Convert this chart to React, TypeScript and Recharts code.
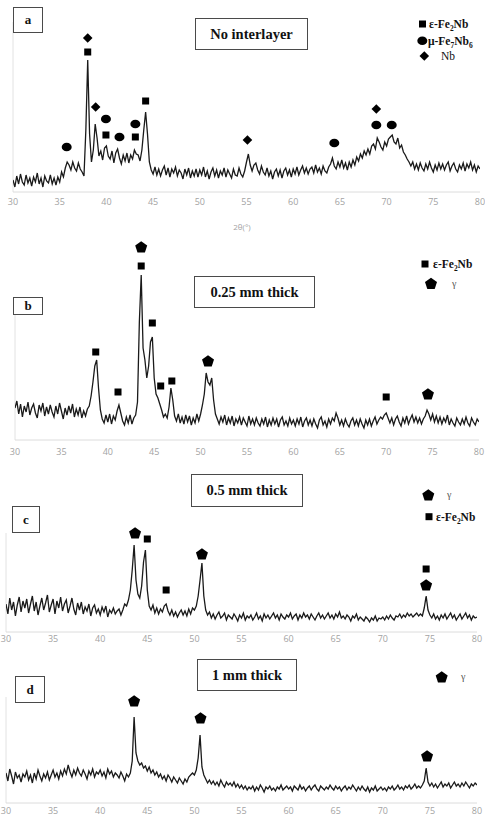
import { ComposedChart, Line, Scatter, XAxis, YAxis, ReferenceLine } from "recharts";

// XRD scans on a 0.2° grid from 30° to 80°
const scanStart = 30;
const scanStep = 0.2;
const angleTicks = [30, 35, 40, 45, 50, 55, 60, 65, 70, 75, 80];

const countsA = [
  12, 5, 16, 8, 18, 10, 7, 17, 9, 14,
  6, 15, 10, 19, 8, 14, 5, 16, 11, 9,
  17, 8, 14, 7, 15, 10, 20, 15, 24, 30,
  27, 22, 30, 24, 21, 29, 23, 20, 16, 62,
  132, 58, 30, 42, 68, 54, 36, 41, 32, 44,
  46, 36, 33, 41, 29, 39, 43, 34, 28, 37,
  31, 39, 29, 37, 33, 42, 38, 37, 31, 42,
  62, 80, 58, 30, 22, 18, 25, 17, 23, 16,
  22, 26, 17, 24, 15, 23, 19, 25, 16, 22,
  19, 13, 23, 17, 24, 14, 21, 16, 23, 15,
  22, 17, 25, 15, 21, 13, 20, 24, 16, 22,
  14, 21, 17, 24, 15, 22, 18, 14, 23, 17,
  16, 24, 18, 15, 21, 30, 38, 27, 21, 27,
  29, 22, 18, 26, 20, 17, 24, 16, 21, 13,
  20, 23, 16, 22, 14, 21, 24, 17, 22, 15,
  23, 18, 25, 17, 22, 26, 19, 24, 18, 23,
  25, 19, 27, 20, 24, 18, 26, 21, 19, 25,
  28, 34, 26, 23, 30, 25, 32, 24, 29, 22,
  30, 25, 32, 27, 35, 31, 38, 34, 41, 37,
  43, 38, 46, 48, 43, 54, 50, 45, 42, 50,
  46, 53, 55, 57, 50, 48, 54, 44, 47, 40,
  37, 33, 30, 26, 30, 23, 28, 22, 29, 24,
  21, 28, 23, 30, 24, 20, 27, 22, 29, 23,
  28, 22, 27, 30, 21, 26, 29, 23, 20, 27,
  23, 29, 21, 28, 24, 30, 22, 27, 20, 26,
  23,
];

const countsB = [
  32, 39, 26, 36, 23, 34, 28, 38, 25, 32,
  36, 27, 22, 35, 29, 37, 24, 33, 26, 35,
  28, 23, 34, 26, 37, 29, 21, 32, 25, 34,
  27, 36, 23, 31, 25, 33, 22, 29, 24, 31,
  34, 44, 58, 74, 80, 52, 30, 21, 17, 25,
  18, 26, 16, 24, 20, 29, 35, 27, 19, 15,
  23, 17, 25, 16, 22, 25, 38, 118, 165, 92,
  80, 62, 74, 98, 103, 62, 46, 42, 36, 30,
  23, 26, 22, 33, 52, 40, 24, 19, 26, 17,
  23, 16, 25, 18, 24, 15, 22, 17, 26, 19,
  26, 35, 46, 67, 58, 55, 62, 40, 26, 21,
  16, 23, 18, 25, 15, 22, 17, 24, 14, 21,
  17, 23, 15, 22, 18, 14, 24, 16, 21, 15,
  22, 17, 14, 21, 16, 23, 13, 20, 15, 22,
  16, 21, 13, 20, 23, 15, 19, 14, 22, 16,
  20, 14, 21, 16, 23, 13, 19, 22, 15, 20,
  14, 21, 16, 12, 20, 23, 15, 19, 13, 21,
  16, 22, 19, 27, 22, 15, 20, 14, 21, 16,
  13, 19, 22, 15, 20, 14, 21, 16, 12, 20,
  15, 21, 14, 19, 23, 16, 20, 23, 21, 25,
  27, 22, 17, 22, 15, 21, 24, 18, 14, 22,
  17, 24, 16, 21, 25, 18, 23, 17, 22, 16,
  21, 24, 30, 26, 20, 26, 18, 24, 17, 23,
  16, 22, 18, 25, 15, 21, 17, 14, 22, 18,
  15, 21, 16, 23, 17, 14, 22, 18, 15, 21,
  18,
];

const countsC = [
  28, 18, 34, 22, 30, 16, 27, 35, 20, 31,
  24, 33, 19, 28, 36, 21, 30, 17, 26, 34,
  22, 29, 37, 20, 27, 33, 18, 31, 24, 35,
  21, 28, 32, 19, 26, 34, 23, 17, 29, 22,
  30, 18, 25, 21, 28, 16, 24, 27, 19, 23,
  17, 25, 20, 26, 15, 22, 19, 24, 18, 21,
  23, 17, 22, 28, 26, 32, 42, 62, 87, 52,
  38, 34, 46, 70, 82, 42, 26, 22, 27, 19,
  24, 18, 23, 20, 26, 28, 21, 17, 22, 16,
  20, 15, 19, 22, 17, 21, 16, 23, 18, 24,
  22, 26, 36, 52, 69, 36, 22, 17, 20, 14,
  18, 13, 17, 20, 14, 16, 19, 12, 17, 15,
  13, 18, 15, 11, 17, 14, 19, 12, 16, 14,
  17, 12, 15, 19, 13, 16, 11, 18, 14, 17,
  13, 16, 19, 14, 17, 12, 18, 15, 13, 17,
  15, 19, 13, 16, 18, 12, 17, 14, 19, 15,
  17, 13, 18, 15, 12, 16, 19, 14, 17, 13,
  16, 19, 14, 17, 13, 18, 15, 20, 14, 16,
  13, 17, 15, 11, 16, 14, 18, 12, 15, 13,
  11, 15, 13, 10, 14, 12, 16, 11, 14, 13,
  15, 12, 16, 13, 17, 14, 12, 16, 15, 18,
  14, 17, 15, 19, 16, 18, 15, 17, 19, 16,
  18, 16, 24, 36, 22, 17, 14, 18, 13, 16,
  12, 17, 14, 18, 13, 16, 19, 14, 17, 12,
  15, 18, 13, 16, 19, 14, 17, 12, 16, 14,
  15,
];

const countsD = [
  30, 22, 34, 27, 19, 31, 25, 28, 21, 29,
  26, 32, 23, 28, 20, 30, 24, 33, 27, 22,
  29, 25, 31, 23, 28, 33, 26, 30, 24, 32,
  27, 34, 29, 38, 31, 26, 33, 28, 35, 30,
  27, 33, 29, 24, 32, 28, 34, 26, 31, 29,
  33, 27, 31, 25, 34, 29, 32, 26, 30, 28,
  25, 31, 27, 22, 29, 26, 30, 42, 86, 50,
  42, 38, 40, 35, 37, 32, 36, 30, 33, 28,
  31, 26, 29, 24, 27, 22, 28, 25, 21, 26,
  23, 20, 25, 22, 19, 24, 21, 26, 28, 30,
  28, 33, 45, 68, 36, 28, 24, 20, 23, 19,
  22, 18, 21, 17, 23, 19, 16, 21, 18, 20,
  17, 21, 16, 19, 15, 18, 14, 17, 13, 16,
  14, 17, 12, 16, 13, 18, 15, 11, 16, 14,
  17, 13, 15, 12, 16, 14, 18, 13, 15, 17,
  14, 16, 12, 17, 15, 13, 18, 14, 16, 12,
  15, 17, 13, 16, 18, 14, 12, 17, 15, 13,
  16, 14, 18, 15, 13, 17, 14, 16, 12, 15,
  17, 13, 16, 14, 18, 15, 12, 16, 13, 17,
  14, 12, 16, 11, 15, 13, 17, 12, 14, 16,
  13, 15, 12, 16, 14, 17, 13, 15, 18, 14,
  16, 13, 17, 15, 18, 14, 16, 19, 15, 17,
  15, 18, 22, 35, 21, 17, 20, 16, 19, 15,
  18, 21, 16, 19, 17, 20, 15, 18, 21, 17,
  19, 16, 20, 17, 21, 18, 15, 19, 17, 20,
  18,
];

// phase markers: eps = ε-Fe2Nb, mu = μ-Fe7Nb6, nb = Nb, gamma = γ
const peaksA = [
  { angle: 35.75, level: 45, phase: "mu" },
  { angle: 38.0, level: 154, phase: "nb" },
  { angle: 38.0, level: 140, phase: "eps" },
  { angle: 38.85, level: 85, phase: "nb" },
  { angle: 39.95, level: 73, phase: "mu" },
  { angle: 39.95, level: 57, phase: "eps" },
  { angle: 41.4, level: 55, phase: "mu" },
  { angle: 43.1, level: 68, phase: "mu" },
  { angle: 43.1, level: 55, phase: "eps" },
  { angle: 44.2, level: 91, phase: "eps" },
  { angle: 55.1, level: 52, phase: "nb" },
  { angle: 64.4, level: 49, phase: "mu" },
  { angle: 68.9, level: 83, phase: "nb" },
  { angle: 68.9, level: 67, phase: "mu" },
  { angle: 70.55, level: 67, phase: "mu" },
];

const peaksB = [
  { angle: 38.7, level: 88, phase: "eps" },
  { angle: 41.1, level: 48, phase: "eps" },
  { angle: 43.6, level: 193, phase: "gamma" },
  { angle: 43.6, level: 174, phase: "eps" },
  { angle: 44.8, level: 117, phase: "eps" },
  { angle: 45.7, level: 54, phase: "eps" },
  { angle: 46.9, level: 59, phase: "eps" },
  { angle: 50.8, level: 79, phase: "gamma" },
  { angle: 70.0, level: 43, phase: "eps" },
  { angle: 74.5, level: 46, phase: "gamma" },
];

const peaksC = [
  { angle: 43.7, level: 99, phase: "gamma" },
  { angle: 45.0, level: 93, phase: "eps" },
  { angle: 47.0, level: 42, phase: "eps" },
  { angle: 50.8, level: 78, phase: "gamma" },
  { angle: 74.6, level: 63, phase: "eps" },
  { angle: 74.6, level: 47, phase: "gamma" },
];

const peaksD = [
  { angle: 43.6, level: 102, phase: "gamma" },
  { angle: 50.65, level: 85, phase: "gamma" },
  { angle: 74.7, level: 47, phase: "gamma" },
];

const toTrace = (counts: number[]) =>
  counts.map((level, i) => ({ angle: +(scanStart + i * scanStep).toFixed(1), level }));

const serif = '"Liberation Serif", "Times New Roman", serif';

function PhaseMark(props: any) {
  const { cx, cy, payload } = props;
  const phase = payload?.phase ?? props.phase;
  if (cx == null || cy == null) return null;
  if (phase === "eps") {
    return <rect x={cx - 3.5} y={cy - 3.5} width={7} height={7} fill="#000" />;
  }
  if (phase === "mu") {
    return <ellipse cx={cx} cy={cy} rx={5} ry={4.3} fill="#000" />;
  }
  if (phase === "nb") {
    const r = 4.8;
    return (
      <path d={`M${cx},${cy - r}L${cx + r},${cy}L${cx},${cy + r}L${cx - r},${cy}Z`} fill="#000" />
    );
  }
  const r = 6.3;
  const pts = [0, 1, 2, 3, 4]
    .map((k) => {
      const a = ((-90 + k * 72) * Math.PI) / 180;
      return `${cx + r * Math.cos(a)},${cy + 0.5 + r * Math.sin(a)}`;
    })
    .join(" ");
  return <polygon points={pts} fill="#000" />;
}

const epsLabel = (
  <>
    ε-Fe<sub style={{ fontSize: "0.65em" }}>2</sub>Nb
  </>
);
const muLabel = (
  <>
    μ-Fe<sub style={{ fontSize: "0.65em" }}>7</sub>Nb<sub style={{ fontSize: "0.65em" }}>6</sub>
  </>
);

const panels = [
  {
    tag: "a",
    title: "No interlayer",
    trace: toTrace(countsA),
    peaks: peaksA,
    top: 0,
    height: 215,
    plotTop: 22,
    plotBottom: 192,
    x0: 13,
    x1: 480,
    yMax: 170,
    axisTop: 170,
    tickSize: 6,
    tickMargin: 1,
    tagBox: { left: 13, top: 7, width: 30, height: 26 },
    titleBox: { left: 195, top: 18, width: 113, height: 32 },
    legend: [
      { phase: "eps", x: 422.5, y: 24, tx: 429, label: epsLabel, bold: true },
      { phase: "mu", x: 422.3, y: 40.7, tx: 428, label: muLabel, bold: true },
      { phase: "nb", x: 424.3, y: 56, tx: 441, label: "Nb", bold: false },
    ],
  },
  {
    tag: "b",
    title: "0.25 mm thick",
    trace: toTrace(countsB),
    peaks: peaksB,
    top: 230,
    height: 232,
    plotTop: 240,
    plotBottom: 440,
    x0: 15,
    x1: 479,
    yMax: 200,
    axisTop: 143,
    tickSize: 6,
    tickMargin: 3,
    tagBox: { left: 13, top: 297, width: 30, height: 18 },
    titleBox: { left: 194, top: 276, width: 121, height: 32 },
    legend: [
      { phase: "eps", x: 425, y: 264, tx: 433, label: epsLabel, bold: true },
      { phase: "gamma", x: 431, y: 283.5, tx: 452, label: "γ", bold: false },
    ],
  },
  {
    tag: "c",
    title: "0.5 mm thick",
    trace: toTrace(countsC),
    peaks: peaksC,
    top: 500,
    height: 150,
    plotTop: 512,
    plotBottom: 632,
    x0: 6,
    x1: 477,
    yMax: 120,
    axisTop: 99,
    tickSize: 4,
    tickMargin: 0,
    tagBox: { left: 12, top: 506, width: 28, height: 27 },
    titleBox: { left: 191, top: 474, width: 112, height: 33 },
    legend: [
      { phase: "gamma", x: 428.3, y: 495, tx: 447, label: "γ", bold: false },
      { phase: "eps", x: 429, y: 516.7, tx: 436, label: epsLabel, bold: true },
    ],
  },
  {
    tag: "d",
    title: "1 mm thick",
    trace: toTrace(countsD),
    peaks: peaksD,
    top: 670,
    height: 152,
    plotTop: 683,
    plotBottom: 803,
    x0: 6,
    x1: 477,
    yMax: 120,
    axisTop: 106,
    tickSize: 4,
    tickMargin: 1,
    tagBox: { left: 15, top: 676, width: 30, height: 27 },
    titleBox: { left: 197, top: 659, width: 100, height: 32 },
    legend: [{ phase: "gamma", x: 441.7, y: 677, tx: 461, label: "γ", bold: false }],
  },
];

function Panel({ p }: { p: (typeof panels)[number] }) {
  return (
    <div style={{ position: "absolute", left: 0, top: p.top, width: 485, height: p.height }}>
      <ComposedChart
        width={485}
        height={p.height}
        data={p.trace}
        margin={{ top: p.plotTop - p.top, left: p.x0, right: 485 - p.x1, bottom: 0 }}
      >
        <XAxis
          type="number"
          dataKey="angle"
          domain={[30, 80]}
          ticks={angleTicks}
          interval={0}
          allowDataOverflow
          height={p.top + p.height - p.plotBottom}
          tickLine={false}
          tickSize={p.tickSize}
          tickMargin={p.tickMargin}
          axisLine={{ stroke: "#dcdcdc" }}
          tick={{ fill: "#a3a3a3", fontSize: 9, fontFamily: '"Open Sans", sans-serif' }}
        />
        <YAxis hide type="number" dataKey="level" domain={[0, p.yMax]} allowDataOverflow />
        <ReferenceLine
          segment={[
            { x: 30, y: 0 },
            { x: 30, y: p.axisTop },
          ]}
          stroke="#e2e2e2"
          ifOverflow="visible"
        />
        <Line
          type="linear"
          dataKey="level"
          stroke="#1a1a1a"
          strokeWidth={1.3}
          dot={false}
          isAnimationActive={false}
        />
        <Scatter data={p.peaks} dataKey="level" shape={PhaseMark} isAnimationActive={false} />
      </ComposedChart>
    </div>
  );
}

const boxStyle = (b: { left: number; top: number; width: number; height: number }) => ({
  position: "absolute" as const,
  left: b.left,
  top: b.top,
  width: b.width,
  height: b.height,
  boxSizing: "border-box" as const,
  border: "1px solid #4a4a4a",
  background: "#fff",
  display: "flex",
  alignItems: "center",
  justifyContent: "center",
  fontFamily: serif,
  fontWeight: 700,
  color: "#111",
});

export default function App() {
  return (
    <div
      style={{
        position: "absolute",
        left: 0,
        top: 0,
        width: 485,
        height: 822,
        background: "#fff",
        overflow: "hidden",
      }}
    >
      {panels.map((p) => (
        <Panel key={p.tag} p={p} />
      ))}

      <div
        style={{
          position: "absolute",
          left: 230,
          top: 221,
          width: 24,
          textAlign: "center",
          fontSize: 8,
          color: "#a3a3a3",
          fontFamily: '"Open Sans", sans-serif',
        }}
      >
        2θ(°)
      </div>

      {panels.map((p) => (
        <div key={p.tag + "-boxes"}>
          <div style={{ ...boxStyle(p.tagBox), fontSize: 13 }}>{p.tag}</div>
          <div style={{ ...boxStyle(p.titleBox), fontSize: 14.5 }}>{p.title}</div>
        </div>
      ))}

      <svg
        width={485}
        height={822}
        style={{ position: "absolute", left: 0, top: 0, pointerEvents: "none" }}
      >
        {panels.flatMap((p) =>
          p.legend.map((l, i) => (
            <PhaseMark key={p.tag + i} cx={l.x} cy={l.y} payload={{ phase: l.phase }} />
          ))
        )}
      </svg>

      {panels.flatMap((p) =>
        p.legend.map((l, i) => (
          <div
            key={p.tag + "t" + i}
            style={{
              position: "absolute",
              left: l.tx,
              top: l.y - 7,
              height: 14,
              lineHeight: "14px",
              fontSize: l.label === "γ" ? 10 : 11.5,
              fontWeight: l.bold ? 700 : 400,
              fontFamily: serif,
              color: l.label === "γ" ? "#555" : "#111",
              whiteSpace: "nowrap",
            }}
          >
            {l.label}
          </div>
        ))
      )}
    </div>
  );
}
